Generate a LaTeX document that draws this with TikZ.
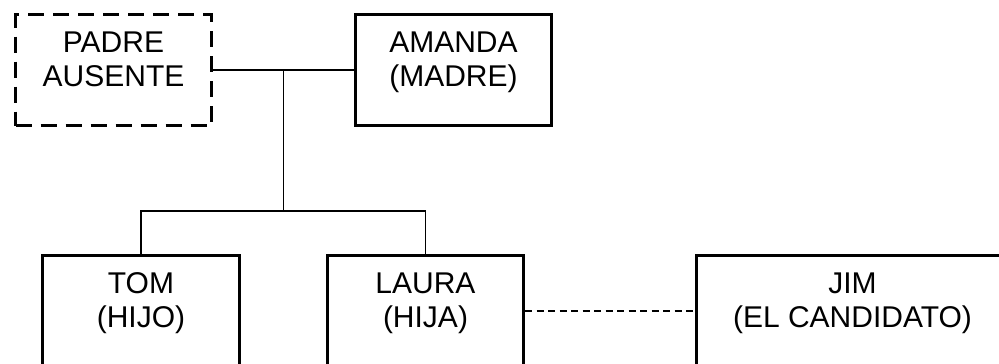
\documentclass[tikz,border=0pt]{standalone}
\usepackage{fontspec}
\setmainfont{Liberation Sans}
\usetikzlibrary{calc}

% text block of a family box: fixed size, lines centred, first baseline near the top
\newcommand{\famtext}[3]{\parbox[c][#2][t]{#1}{\centering\rule{0pt}{38pt}#3}}

\tikzset{
  person/.style={draw=black, line width=3.4pt, inner sep=0pt, rectangle,
                 font=\fontsize{30}{34}\selectfont},
  absent/.style={person, line width=3.2pt, dash pattern=on 16pt off 9pt},
  kin/.style={draw=black, line width=1.4pt},
  romance/.style={draw=black, line width=1.4pt, dash pattern=on 7pt off 4.5pt}
}

\begin{document}
\begin{tikzpicture}[x=1pt, y=-1pt]
  \useasboundingbox (0,0) rectangle (999,364);
  \clip (0,0) rectangle (999,364);

  % parents
  \node[absent] (padre)  at (113.5,70) {\famtext{196pt}{111pt}{PADRE\\AUSENTE}};
  \node[person] (amanda) at (453.5,70) {\famtext{196pt}{111pt}{AMANDA\\(MADRE)}};

  % children and the suitor
  \node[person] (tom)   at (141,311)   {\famtext{197pt}{111pt}{TOM\\(HIJO)}};
  \node[person] (laura) at (425.5,311) {\famtext{196pt}{111pt}{LAURA\\(HIJA)}};
  \node[person] (jim)   at (852.5,311) {\famtext{312pt}{111pt}{JIM\\(EL CANDIDATO)}};

  % marriage line and descent
  \draw[kin] (padre.east) -- (amanda.west);
  \coordinate (mid)  at ($(padre.east)!0.5!(amanda.west)$);
  \coordinate (fork) at (mid |- 0,211);
  \draw[kin] (mid) -- (fork);
  \draw[kin] (tom.north) |- (fork) -| (laura.north);

  % Laura and Jim
  \draw[romance] (laura.east) -- (jim.west);
\end{tikzpicture}
\end{document}
